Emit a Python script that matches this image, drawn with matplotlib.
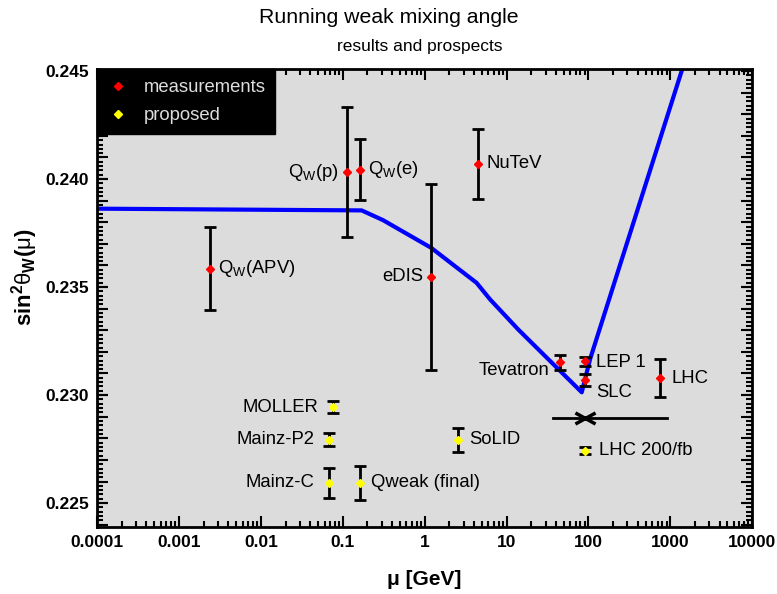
import numpy as np
import matplotlib
matplotlib.use("Agg")
import matplotlib.pyplot as plt
from matplotlib.path import Path
from matplotlib.ticker import LogLocator, MultipleLocator, FuncFormatter, NullFormatter

plt.rcParams['font.family'] = ['Liberation Sans', 'DejaVu Sans']
plt.rcParams['mathtext.fontset'] = 'custom'
plt.rcParams['mathtext.rm'] = 'Liberation Sans'
plt.rcParams['mathtext.it'] = 'Liberation Sans'
plt.rcParams['mathtext.bf'] = 'Liberation Sans:bold'

# running curve
curve_mu = [1e-4, 0.17, 0.31, 1.2, 4.3, 6.3, 13.8, 83, 105, 1377, 2500]
curve_s2w = [0.23863, 0.23855, 0.2381, 0.23682, 0.2352, 0.23443, 0.23305,
             0.23013, 0.23167, 0.2450, 0.2480]

# measurements
meas_names = [r"Q$_{\rm W}$(APV)", r"Q$_{\rm W}$(p)", r"Q$_{\rm W}$(e)", "NuTeV", "eDIS",
              "Tevatron", "LEP 1", "SLC", "LHC"]
meas_mu = [0.0024, 0.112, 0.163, 4.5, 1.2, 45, 91, 91, 750]
meas_val = [0.23586, 0.24032, 0.24044, 0.24071, 0.23548, 0.23152, 0.23156, 0.2307, 0.23078]
meas_err = [0.0019, 0.0030, 0.00142, 0.00163, 0.0043, 0.00035, 0.00022, 0.00027, 0.00087]

# proposed
prop_names = ["MOLLER", "Mainz-P2", "Mainz-C", "Qweak (final)", "SoLID", "LHC 200/fb"]
prop_mu = [0.0755, 0.0674, 0.0674, 0.163, 2.56, 91]
prop_val = [0.22944, 0.22794, 0.22594, 0.22594, 0.22794, 0.22743]
prop_err = [0.00028, 0.00029, 0.0007, 0.0008, 0.00056, 0.00017]

# mu range band
band_mu = [37, 91, 900]
band_val = 0.22895

# label offsets (points), negative = left of point
meas_off = [(6, 0), (-6, 0), (6, 0), (6, 0), (-6, 0), (-8, -6), (8, -1), (8, -9), (8, 0)]
prop_off = [(-10, 0), (-10, 0), (-10, 0), (8, 0), (8, 0), (10, 0)]

fig = plt.figure(figsize=(7.77, 5.94), dpi=100)
ax = fig.add_axes([0.125, 0.113, 0.843, 0.771])
ax.set_facecolor('#dcdcdc')

ax.plot(curve_mu, curve_s2w, color='#0000ff', lw=3, zorder=2)

ax.errorbar(meas_mu, meas_val, yerr=meas_err, fmt='none', ecolor='black',
            elinewidth=2, capsize=4.5, capthick=2, zorder=3)
ax.plot(meas_mu, meas_val, 'D', color='red', ms=4.5, mec='red', ls='none', zorder=4)
ax.errorbar(prop_mu, prop_val, yerr=prop_err, fmt='none', ecolor='black',
            elinewidth=2, capsize=4.5, capthick=2, zorder=3)
ax.plot(prop_mu, prop_val, 'D', color='yellow', ms=4.5, mec='yellow', ls='none', zorder=4)

flat_x = Path([(-1, -0.55), (1, 0.55), (-1, 0.55), (1, -0.55)],
              [Path.MOVETO, Path.LINETO, Path.MOVETO, Path.LINETO])
ax.plot([band_mu[0], band_mu[2]], [band_val, band_val], color='black', lw=2, zorder=3)
ax.plot(band_mu[1], band_val, marker=flat_x, color='black', ms=14.5, mew=2.5, zorder=3)


def label(names, mus, vals, offs):
    for n, m, v, o in zip(names, mus, vals, offs):
        ha = 'left' if o[0] > 0 else 'right'
        ax.annotate(n, (m, v), xytext=o, textcoords='offset points',
                    ha=ha, va='center', fontsize=13.3)


label(meas_names, meas_mu, meas_val, meas_off)
label(prop_names, prop_mu, prop_val, prop_off)

ax.set_xscale('log')
ax.set_xlim(1e-4, 1e4)
ax.set_ylim(0.2239, 0.2451)

xlabels = {1e-4: '0.0001', 1e-3: '0.001', 1e-2: '0.01', 1e-1: '0.1', 1: '1', 10: '10',
           100: '100', 1e3: '1000', 1e4: '10000'}
ax.xaxis.set_major_locator(LogLocator(base=10, numticks=20))
ax.xaxis.set_minor_locator(LogLocator(base=10, subs=np.arange(2, 10), numticks=100))
ax.xaxis.set_major_formatter(FuncFormatter(
    lambda v, p: min(xlabels.items(), key=lambda kv: abs(np.log10(kv[0]) - np.log10(v)))[1]))
ax.xaxis.set_minor_formatter(NullFormatter())

ax.yaxis.set_major_locator(MultipleLocator(0.005))
ax.yaxis.set_minor_locator(MultipleLocator(0.0002))
ax.yaxis.set_major_formatter(FuncFormatter(lambda v, p: f"{v:.3f}"))

ax.tick_params(which='both', direction='in', top=True, right=True, width=1.5)
ax.tick_params(which='major', length=8, labelsize=12.5, pad=6)
ax.tick_params(which='minor', length=4)
for t in ax.get_xticklabels() + ax.get_yticklabels():
    t.set_fontweight('bold')
for sp in ax.spines.values():
    sp.set_linewidth(2)

# medium y ticks every 0.001, drawn as extra ticks on both sides
ax_r = ax.secondary_yaxis('left')
ax_r.set_yticks(np.arange(0.224, 0.2451, 0.001))
ax_r.tick_params(direction='in', length=8, width=1.5, labelleft=False)
ax_r.spines['left'].set_visible(False)
ax_l = ax.secondary_yaxis('right')
ax_l.set_yticks(np.arange(0.224, 0.2451, 0.001))
ax_l.tick_params(direction='in', length=8, width=1.5, labelright=False)
ax_l.spines['right'].set_visible(False)

ax.set_xlabel("μ [GeV]", fontsize=15, fontweight='bold', labelpad=14)
ax.set_ylabel(r"$\mathbf{sin^2}\theta_\mathbf{W}\mathbf{(}\mu\mathbf{)}$", fontsize=16)
ax.yaxis.set_label_coords(-0.087, 0.545)

fig.text(0.5, 0.97, "Running weak mixing angle", ha='center', va='center', fontsize=15.3)
fig.text(0.54, 0.921, "results and prospects", ha='center', va='center', fontsize=12.5)

h1, = ax.plot([], [], 'D', color='red', ms=4.5, ls='none')
h2, = ax.plot([], [], 'D', color='yellow', ms=4.5, ls='none')
leg = ax.legend([h1, h2], ['measurements', 'proposed'], loc='upper left',
                borderaxespad=0, facecolor='black', edgecolor='black', framealpha=1,
                fancybox=False, fontsize=13.3, handlelength=1.2, handletextpad=0.75,
                labelspacing=0.6, borderpad=0.55)
leg.set_zorder(5)
for t in leg.get_texts():
    t.set_color('#dddddd')

fig.savefig("out.png", dpi=100)
